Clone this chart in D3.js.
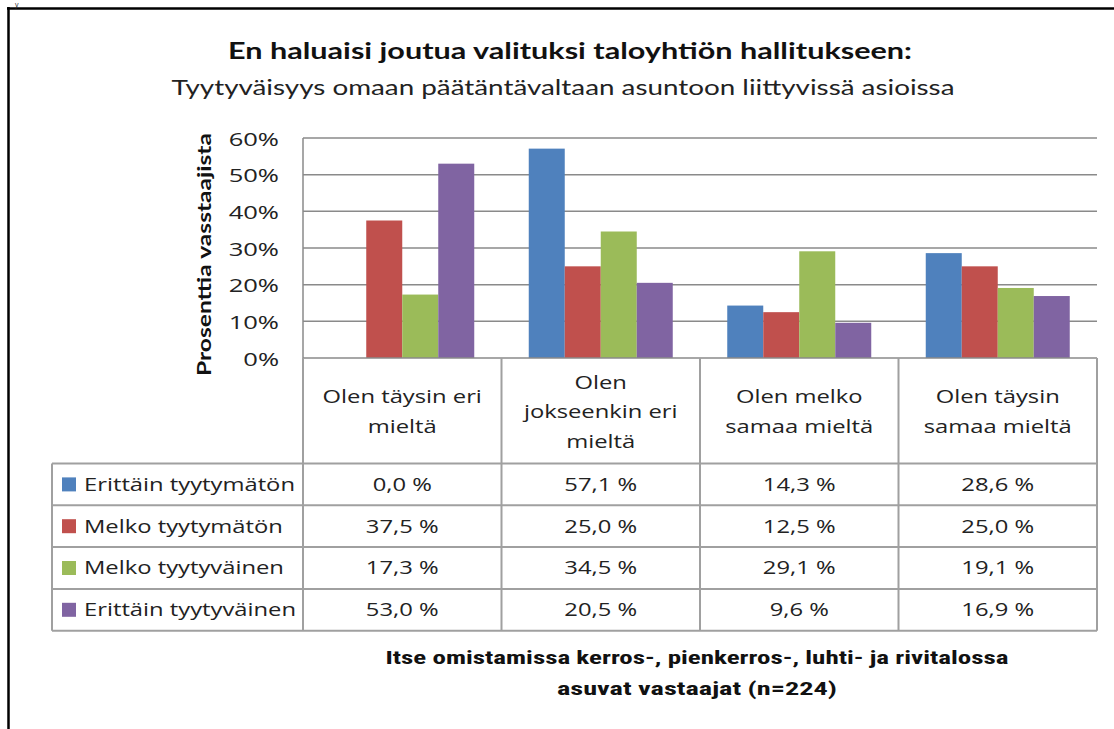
<!DOCTYPE html>
<html><head><meta charset="utf-8">
<script src="https://cdn.jsdelivr.net/npm/d3@7"></script>
<style>
html,body{margin:0;padding:0;background:#fff;}
svg{display:block;}
</style></head>
<body>
<script>
const categories = [
  ["Olen täysin eri", "mieltä"],
  ["Olen", "jokseenkin eri", "mieltä"],
  ["Olen melko", "samaa mieltä"],
  ["Olen täysin", "samaa mieltä"]
];
const seriesNames = ["Erittäin tyytymätön", "Melko tyytymätön", "Melko tyytyväinen", "Erittäin tyytyväinen"];
const seriesColors = ["#4F81BD", "#C0504D", "#9BBB59", "#8064A2"];
const erittainTyytymaton = [0.0, 57.1, 14.3, 28.6];
const melkoTyytymaton = [37.5, 25.0, 12.5, 25.0];
const melkoTyytyvainen = [17.3, 34.5, 29.1, 19.1];
const erittainTyytyvainen = [53.0, 20.5, 9.6, 16.9];
const seriesValues = [erittainTyytymaton, melkoTyytymaton, melkoTyytyvainen, erittainTyytyvainen];
const yTicks = [0, 10, 20, 30, 40, 50, 60];
const titleText = "En haluaisi joutua valituksi taloyhtiön hallitukseen:";
const subtitleText = "Tyytyväisyys omaan päätäntävaltaan asuntoon liittyvissä asioissa";
const yAxisTitle = "Prosenttia vasstaajista";
const captionLines = ["Itse omistamissa kerros-, pienkerros-, luhti- ja rivitalossa", "asuvat vastaajat (n=224)"];

const W = 1114, H = 729;
const svg = d3.select("body").append("svg").attr("width", W).attr("height", H);
const FONT = "'Open Sans', 'Noto Sans', sans-serif";

// widen glyphs horizontally (reference uses a wide rendering)
function stretch(sel, factor) {
  sel.each(function () {
    const w = this.getComputedTextLength();
    d3.select(this).attr("textLength", w * factor).attr("lengthAdjust", "spacingAndGlyphs");
  });
  return sel;
}

// frame
svg.append("line").attr("x1", 8.5).attr("x2", 8.5).attr("y1", 7).attr("y2", H).attr("stroke", "#000").attr("stroke-width", 2.5);
svg.append("line").attr("x1", 7).attr("x2", W).attr("y1", 8.5).attr("y2", 8.5).attr("stroke", "#000").attr("stroke-width", 2.5);
svg.append("text").attr("x", 15).attr("y", 7).attr("font-family", FONT).attr("font-size", 7).attr("fill", "#222").text("y");

// title
svg.append("text").attr("x", 570).attr("y", 59).attr("text-anchor", "middle")
  .attr("font-family", "Lato, 'Open Sans', sans-serif").attr("font-weight", "bold").attr("font-size", 22)
  .attr("fill", "#111").attr("textLength", 684).attr("lengthAdjust", "spacingAndGlyphs").text(titleText);
svg.append("text").attr("x", 563).attr("y", 95).attr("text-anchor", "middle")
  .attr("font-family", "Lato, 'Open Sans', sans-serif").attr("font-size", 21)
  .attr("fill", "#222").attr("textLength", 783).attr("lengthAdjust", "spacingAndGlyphs").text(subtitleText);

const plotL = 303, plotR = 1097, yTop = 138, yBot = 358;
const y = d3.scaleLinear().domain([0, 60]).range([yBot, yTop]);
const x0 = d3.scaleBand().domain(d3.range(categories.length)).range([plotL, plotR]).paddingInner(0).paddingOuter(0);
const x1 = d3.scaleBand().domain(d3.range(seriesNames.length)).range([0, x0.bandwidth()]).paddingInner(0).paddingOuter(0.757);

// gridlines
svg.append("g").selectAll("line").data(yTicks.filter(t => t > 0)).join("line")
  .attr("x1", plotL).attr("x2", plotR).attr("y1", d => y(d)).attr("y2", d => y(d))
  .attr("stroke", "#8a8a8a").attr("stroke-width", 1.5);

// bars
const gBars = svg.append("g");
seriesValues.forEach((vals, si) => {
  gBars.append("g").selectAll("rect").data(vals).join("rect")
    .attr("x", (d, ci) => x0(ci) + x1(si))
    .attr("width", x1.bandwidth())
    .attr("y", d => y(d))
    .attr("height", d => yBot - y(d))
    .attr("fill", seriesColors[si]);
});

// y axis
const yAxis = d3.axisLeft(y).tickValues(yTicks).tickFormat(d => d + "%").tickSize(0).tickPadding(24);
const ga = svg.append("g").attr("transform", `translate(${plotL},0)`).call(yAxis);
ga.select(".domain").remove();
stretch(ga.selectAll("text").attr("font-family", FONT).attr("font-size", 18).attr("fill", "#222").attr("dy", "0.4em"), 1.42);

// y axis title
svg.append("text").attr("transform", "translate(211,254.5) rotate(-90)").attr("text-anchor", "middle")
  .attr("font-family", "Lato, 'Open Sans', sans-serif").attr("font-weight", "bold").attr("font-size", 19)
  .attr("fill", "#111").attr("textLength", 243).attr("lengthAdjust", "spacingAndGlyphs").text(yAxisTitle);

// table
const tableL = 52, headTop = yBot, rowTop = 463.5, rowH = 41.8;
const tableBot = rowTop + rowH * seriesNames.length;
const gridC = "#a0a0a0";
const gt = svg.append("g");
gt.append("line").attr("x1", plotL).attr("x2", plotR).attr("y1", yBot).attr("y2", yBot).attr("stroke", "#8a8a8a").attr("stroke-width", 1.5);
d3.range(seriesNames.length + 1).forEach(i => {
  gt.append("line").attr("x1", tableL).attr("x2", plotR).attr("y1", rowTop + i * rowH).attr("y2", rowTop + i * rowH)
    .attr("stroke", gridC).attr("stroke-width", 2);
});
gt.append("line").attr("x1", tableL).attr("x2", tableL).attr("y1", rowTop).attr("y2", tableBot).attr("stroke", gridC).attr("stroke-width", 2);
gt.append("line").attr("x1", plotL).attr("x2", plotL).attr("y1", yTop).attr("y2", yBot).attr("stroke", "#8a8a8a").attr("stroke-width", 1.5);
d3.range(categories.length + 1).forEach(i => {
  const xx = i < categories.length ? x0(i) : plotR;
  gt.append("line").attr("x1", xx).attr("x2", xx).attr("y1", headTop).attr("y2", tableBot).attr("stroke", gridC).attr("stroke-width", 2);
});
const F = 1.32;
// header labels
const headMid = (headTop + rowTop) / 2 + 1;
categories.forEach((lines, ci) => {
  const cx = x0(ci) + x0.bandwidth() / 2;
  const lh = 29.5;
  lines.forEach((ln, li) => {
    stretch(gt.append("text").attr("x", cx).attr("y", headMid + (li - (lines.length - 1) / 2) * lh)
      .attr("dy", "0.36em").attr("text-anchor", "middle")
      .attr("font-family", FONT).attr("font-size", 18).attr("fill", "#222").text(ln), F);
  });
});
// legend rows
seriesNames.forEach((nm, si) => {
  const cy = rowTop + si * rowH + rowH / 2;
  gt.append("rect").attr("x", 62).attr("y", cy - 7).attr("width", 14).attr("height", 14).attr("fill", seriesColors[si]);
  stretch(gt.append("text").attr("x", 84).attr("y", cy).attr("dy", "0.36em")
    .attr("font-family", FONT).attr("font-size", 18).attr("fill", "#222").text(nm), F);
  seriesValues[si].forEach((v, ci) => {
    stretch(gt.append("text").attr("x", x0(ci) + x0.bandwidth() / 2).attr("y", cy).attr("dy", "0.36em").attr("text-anchor", "middle")
      .attr("font-family", FONT).attr("font-size", 18).attr("fill", "#222")
      .text(v.toFixed(1).replace(".", ",") + " %"), F);
  });
});

// caption
const capW = [623, 280];
captionLines.forEach((ln, i) => {
  svg.append("text").attr("x", 697).attr("y", 664 + i * 31).attr("text-anchor", "middle")
    .attr("font-family", "'Liberation Sans Narrow', 'Roboto Condensed', Roboto, sans-serif").attr("font-weight", "bold").attr("font-size", 19)
    .attr("fill", "#111").attr("textLength", capW[i]).attr("lengthAdjust", "spacingAndGlyphs").text(ln);
});
</script>
</body></html>
